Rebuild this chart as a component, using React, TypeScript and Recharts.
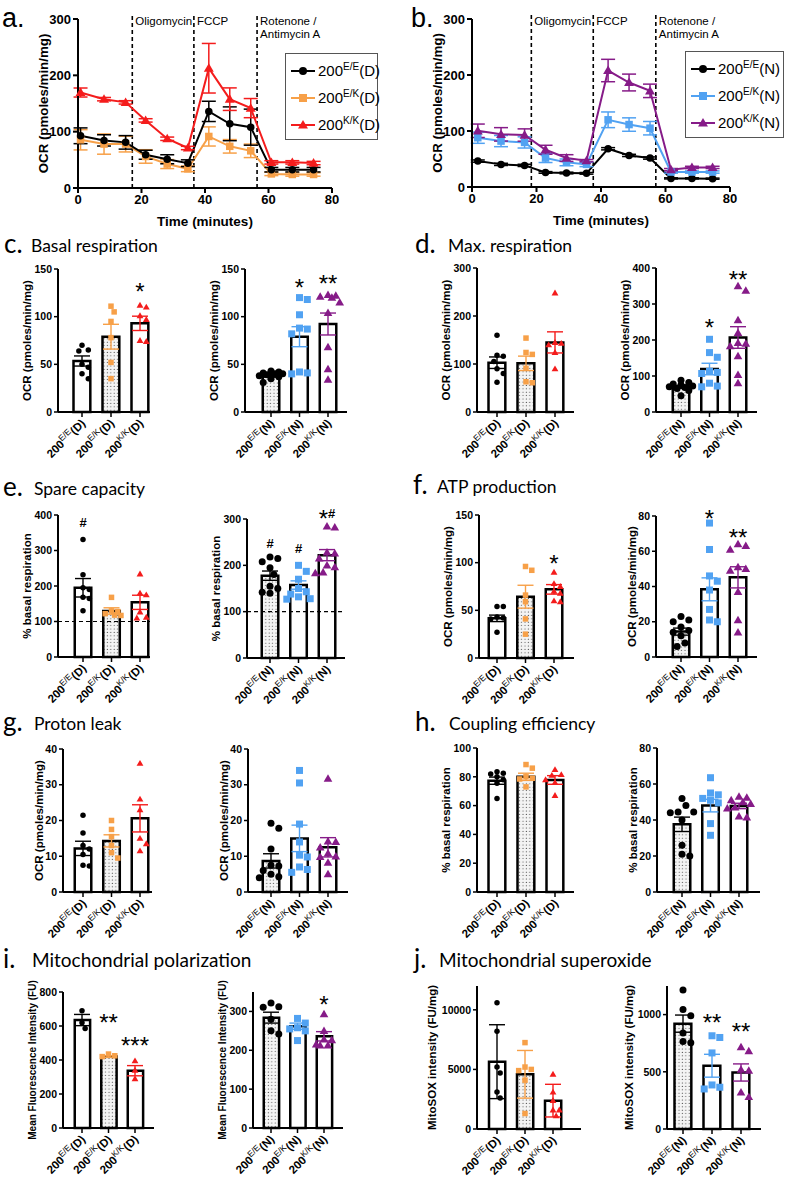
import React from 'react';
import {
  LineChart, Line, ComposedChart, Bar, Cell, Scatter, XAxis, YAxis,
  ErrorBar, ReferenceLine, ReferenceDot, Legend,
} from 'recharts';

const AX = '"Liberation Sans", Arial, Helvetica, sans-serif';
const TT = 'Lato, "Liberation Sans", sans-serif';

const BLACK = '#000000';
const ORANGE = '#F7A048';
const RED = '#F41C1C';
const BLUE = '#51A2F2';
const PURPLE = '#861B88';

const genotypes = ['E/E', 'E/K', 'K/K'];

// ---------- a / b : OCR time courses ----------
const timesA = [0.8, 8.2, 15, 21.3, 28.1, 34.6, 41.2, 47.8, 54.4, 60.9, 67.5, 74.2];
const a_EE = [92.7, 84.5, 81, 59, 51, 44, 136, 114, 108, 32.5, 32.5, 32.5];
const a_EE_err = [14, 10, 12, 8, 8, 6, 18, 30, 32, 4, 4, 4];
const a_EK = [85.6, 78, 78, 56, 42.5, 34, 91.5, 74, 66, 25, 24, 24];
const a_EK_err = [18, 18, 14, 12, 8, 5, 17, 12, 12, 3, 3, 3];
const a_KK = [169.5, 157.7, 152, 120, 87.4, 71, 212.6, 157.7, 141.8, 45.5, 45.5, 44.3];
const a_KK_err = [8, 3, 3, 3, 3, 3, 44, 20, 17, 3, 3, 3];

const timesB = [1.8, 9.0, 16.3, 22.8, 29.3, 35.5, 42.2, 48.7, 55.2, 61.7, 68.2, 74.6];
const b_EE = [46.3, 40.4, 38.6, 26, 25, 24.4, 68.3, 56.4, 51.7, 15.4, 15.4, 14.9];
const b_EE_err = [2, 2, 2, 1.5, 1.5, 1.5, 2, 2, 2, 1, 1, 1];
const b_EK = [88, 82, 79.6, 51.7, 44, 40.4, 120, 111.5, 105, 26.7, 26.7, 26.7];
const b_EK_err = [10, 10, 10, 8, 6, 4, 14, 12, 12, 2, 2, 2];
const b_KK = [100.4, 94, 92.8, 66.5, 51.7, 47, 208, 186.6, 171.7, 31, 35, 35];
const b_KK_err = [12, 12, 11, 8, 6, 2, 20, 15, 12, 2, 2, 2];

const drugsA = [17.1, 36.5, 56.4];
const drugsB = [18.4, 37.6, 57.0];
const drugNames = [['Oligomycin'], ['FCCP'], ['Rotenone /', 'Antimycin A']];

// ---------- c : basal respiration ----------
const basalD_mean = [53.5, 79, 93];
const basalD_sem = [5.3, 13, 7.5];
const basalD_EE = [70, 65, 64, 50, 47, 40, 35];
const basalD_EK = [111, 105, 95, 78, 52, 35];
const basalD_KK = [112, 110, 101, 97, 75, 74];
const basalD_sig = ['', '', '*'];
const basalD_sigY = [0, 0, 132];
const basalN_mean = [38, 79, 92.3];
const basalN_sem = [1.5, 10.5, 11.5];
const basalN_EE = [43, 42, 41, 40, 40, 39, 38, 37, 35, 31];
const basalN_EK = [120, 118, 102, 88, 87, 82, 42, 41, 40];
const basalN_KK = [123, 122, 121, 120, 115, 104, 68, 45, 34];
const basalN_sig = ['', '*', '**'];
const basalN_sigY = [0, 136.7, 140];

// ---------- d : max respiration ----------
const maxD_mean = [102.7, 101.4, 145];
const maxD_sem = [12, 15, 22];
const maxD_EE = [160, 118, 116, 105, 90, 80, 62];
const maxD_EK = [154, 124, 120, 91, 63, 61];
const maxD_KK = [248, 145, 143, 140, 124, 90];
const maxN_mean = [70, 119.4, 207];
const maxN_sem = [4, 16, 30];
const maxN_EE = [88, 82, 78, 75, 72, 70, 68, 65, 60, 45];
const maxN_EK = [202, 165, 152, 113, 110, 107, 80, 72, 70];
const maxN_KK = [350, 337, 255, 220, 192, 190, 183, 155, 103, 80];
const maxN_sig = ['', '*', '**'];
const maxN_sigY = [0, 251, 383];

// ---------- e : spare capacity ----------
const spareD_mean = [195, 129.6, 154];
const spareD_sem = [26, 9, 20];
const spareD_EE = [331, 232, 195, 190, 168, 165, 130];
const spareD_EK = [168, 130, 128, 122, 118, 117];
const spareD_KK = [234, 180, 175, 127, 112, 110];
const spareD_sig = ['#', '', ''];
const spareD_sigY = [378, 0, 0];
const spareN_mean = [177.7, 157.5, 222];
const spareN_sem = [10, 9, 12];
const spareN_EE = [218, 215, 208, 195, 180, 155, 150, 142, 140];
const spareN_EK = [200, 187, 170, 150, 143, 138, 132, 128, 127];
const spareN_KK = [284, 282, 228, 226, 215, 200, 196, 185, 183];
const spareN_sig = ['#', '#', '*#'];
const spareN_sigY = [247, 236, 313];

// ---------- f : ATP production ----------
const atpD_mean = [41.6, 64.3, 72];
const atpD_sem = [3.4, 12, 5];
const atpD_EE = [54, 54, 43, 42, 41, 27];
const atpD_EK = [96, 92, 66, 59, 41, 25];
const atpD_KK = [90, 78, 75, 70, 68, 60, 59];
const atpD_sig = ['', '', '*'];
const atpD_sigY = [0, 0, 104.6];
const atpN_mean = [14.4, 38.4, 45.2];
const atpN_sem = [2, 6.5, 6];
const atpN_EE = [23, 21, 20, 17, 15, 14, 12, 8, 6];
const atpN_EK = [76, 61, 46, 43, 38, 27, 21, 20];
const atpN_KK = [64, 63, 61, 51, 50, 49, 37, 21, 14];
const atpN_sig = ['', '*', '**'];
const atpN_sigY = [0, 81.5, 71];

// ---------- g : proton leak ----------
const leakD_mean = [12.2, 14.3, 20.6];
const leakD_sem = [2, 1.7, 3.8];
const leakD_EE = [21.5, 16.5, 13, 12, 10.5, 7.5, 7.3];
const leakD_EK = [20, 17.5, 15.5, 13, 11, 9.5];
const leakD_KK = [36, 26, 23, 15, 13.5, 11.5];
const leakN_mean = [8.7, 15, 12.5];
const leakN_sem = [2, 3.7, 2.7];
const leakN_EE = [19.2, 17.8, 12, 7.5, 7.3, 6, 5, 4.3, 4];
const leakN_EK = [34, 30.5, 19, 14, 10.3, 9.8, 7, 6.3, 5.5];
const leakN_KK = [31.7, 14.2, 14, 12.5, 10.8, 10, 9.8, 8.2, 5];

// ---------- h : coupling efficiency ----------
const coupD_mean = [77.3, 80, 77.8];
const coupD_sem = [2.5, 2.5, 3];
const coupD_EE = [83.5, 82.5, 82, 80, 78, 75.5, 65];
const coupD_EK = [88.5, 86, 80, 79, 78.5, 73];
const coupD_KK = [85, 81.5, 81, 78, 76, 67];
const coupN_mean = [37.6, 48, 47.8];
const coupN_sem = [4, 3.5, 1.5];
const coupN_EE = [52, 48, 44.5, 44.5, 44, 40, 26, 21, 20];
const coupN_EK = [63.5, 55, 54, 52, 51, 49.5, 38, 31.5];
const coupN_KK = [53, 52.5, 51, 50, 49, 47, 46.5, 42, 41.5];

// ---------- i : mitochondrial polarization ----------
const polD_mean = [635, 420, 337];
const polD_sem = [33, 5, 30];
const polD_EE = [690, 619, 586];
const polD_EK = [435, 425, 420];
const polD_KK = [395, 340, 290];
const polD_sig = ['', '**', '***'];
const polD_sigY = [0, 652, 518];
const polN_mean = [284, 262, 236];
const polN_sem = [14, 8, 12];
const polN_EE = [322, 312, 311, 280, 250, 242];
const polN_EK = [282, 270, 258, 255, 250, 225];
const polN_KK = [293, 250, 228, 226, 215, 213, 213];
const polN_sig = ['', '', '*'];
const polN_sigY = [0, 0, 333];

// ---------- j : mitochondrial superoxide ----------
const soxD_mean = [5650, 4590, 2380];
const soxD_sd = [3100, 2000, 1370];
const soxD_EE = [10600, 8200, 5200, 4700, 3100, 2600];
const soxD_EK = [7250, 5200, 5000, 4900, 4100, 1300];
const soxD_KK = [4600, 3100, 2400, 1600, 1600, 1100];
const soxN_mean = [921, 553, 494];
const soxN_sem = [75, 100, 75];
const soxN_EE = [1215, 1045, 990, 840, 765, 755];
const soxN_EK = [815, 800, 665, 385, 365, 350];
const soxN_KK = [715, 680, 520, 510, 320, 280];
const soxN_sig = ['', '**', '**'];
const soxN_sigY = [0, 980, 898];

const OCR_LABEL = 'OCR (pmoles/min/mg)';
const PCT_LABEL = '% basal respiration';
const MFI_LABEL = 'Mean Fluorescence Intensity (FU)';
const SOX_LABEL = 'MitoSOX intensity (FU/mg)';

const panelTitles = [
  { letter: 'c.', text: 'Basal respiration', lx: 4, tx: 31, y: 253, fs: 17.5 },
  { letter: 'd.', text: 'Max. respiration', lx: 415, tx: 448, y: 253, fs: 17.5 },
  { letter: 'e.', text: 'Spare capacity', lx: 3, tx: 34, y: 496, fs: 17.5 },
  { letter: 'f.', text: 'ATP production', lx: 413, tx: 437, y: 494, fs: 17.5 },
  { letter: 'g.', text: 'Proton leak', lx: 3, tx: 34, y: 731, fs: 17.5 },
  { letter: 'h.', text: 'Coupling efficiency', lx: 415, tx: 449, y: 731, fs: 17.5 },
  { letter: 'i.', text: 'Mitochondrial polarization', lx: 3, tx: 32, y: 968, fs: 19 },
  { letter: 'j.', text: 'Mitochondrial superoxide', lx: 414, tx: 439, y: 968, fs: 19 },
];

// ---------- helpers ----------
function Marker({ kind, cx, cy, size, color }: any) {
  if (cx == null || cy == null || isNaN(cx) || isNaN(cy)) return <g />;
  if (kind === 'circle') return <circle cx={cx} cy={cy} r={size / 2} fill={color} />;
  if (kind === 'square') return <rect x={cx - size / 2} y={cy - size / 2} width={size} height={size} fill={color} />;
  const w = size * 0.62;
  return (
    <polygon
      points={`${cx},${cy - size * 0.62} ${cx + w},${cy + size * 0.45} ${cx - w},${cy + size * 0.45}`}
      fill={color}
    />
  );
}

// beeswarm-style horizontal spreading of points that would overlap
function swarm(vals: number[], dPx: number, kY: number, sp: number, maxPx: number) {
  const placed: { x: number; y: number }[] = [];
  const out: number[] = new Array(vals.length).fill(0);
  const order = vals.map((_, i) => i).sort((a, b) => vals[b] - vals[a]);
  const cands: number[] = [0];
  for (let s = 1; s < 20; s++) {
    const c = Math.ceil(s / 2) * dPx * 0.5 * (s % 2 ? 1 : -1);
    if (Math.abs(c) <= maxPx) cands.push(c);
  }
  for (const i of order) {
    const y = vals[i] * kY;
    let best = 0;
    let bestD = -1;
    for (const cand of cands) {
      const md = placed.length ? Math.min(...placed.map((p) => Math.hypot(p.x - cand, p.y - y))) : 1e9;
      if (md >= dPx) { best = cand; bestD = md; break; }
      if (md > bestD + 0.01) { bestD = md; best = cand; }
    }
    placed.push({ x: best, y });
    out[i] = best / sp;
  }
  return out;
}

function YTitle(p: any) {
  const vb = p.viewBox || { x: 0, y: 0, width: 0, height: 0 };
  const cx = vb.x + vb.width - p.off;
  const cy = vb.y + vb.height / 2;
  return (
    <text x={cx} y={cy} transform={`rotate(-90 ${cx} ${cy})`} textAnchor="middle" dominantBaseline="central"
      fontFamily={AX} fontWeight={700} fontSize={p.fs} fill="#000">
      {p.text}
    </text>
  );
}

function XTitle(p: any) {
  const vb = p.viewBox || { x: 0, y: 0, width: 0, height: 0 };
  return (
    <text x={vb.x + vb.width / 2} y={vb.y + 38} textAnchor="middle" fontFamily={AX} fontWeight={700} fontSize={13.5} fill="#000">
      Time (minutes)
    </text>
  );
}

function GenoTick(p: any) {
  const { x, y, payload, diet } = p;
  const g = genotypes[Math.round(payload.value) - 1] || '';
  return (
    <g transform={`translate(${x + 4},${y + 5}) rotate(-45)`}>
      <text textAnchor="end" fontFamily={AX} fontSize={11.5} fontWeight={700} fill="#000">
        <tspan>200</tspan>
        <tspan dy={-4.5} fontSize={8.5} fontWeight={400}>{g}</tspan>
        <tspan dy={4.5}>({diet})</tspan>
      </text>
    </g>
  );
}

function SigMark({ cx, cy, text }: any) {
  let prev = 0;
  return (
    <text x={cx} y={cy} textAnchor="middle" fontFamily={AX} fill="#000">
      {text.split('').map((ch: string, i: number) => {
        const fs = ch === '*' ? 24 : 13;
        const off = ch === '*' ? 0.58 * fs : 0.36 * fs;
        const dy = off - prev;
        prev = off;
        return <tspan key={i} fontSize={fs} fontWeight={ch === '#' ? 700 : 400} dy={dy}>{ch}</tspan>;
      })}
    </text>
  );
}

// ---------- bar + dot subchart ----------
function DotBar({ c }: any) {
  const YW = 64, MT = 30, MR = 14, XH = 80;
  const sp = (c.c3 - c.c1) / 2;
  const xmin = 1 - (c.c1 - c.axisX) / sp;
  const xmax = 3 + (c.endX - c.c3) / sp;
  const plotW = c.endX - c.axisX;
  const plotH = c.botY - c.topY;
  const kY = plotH / c.max;
  const isD = c.diet === 'D';
  const colors = isD ? [BLACK, ORANGE, RED] : [BLACK, BLUE, PURPLE];
  const kinds = ['circle', 'square', 'triangle'];
  const msize = isD ? 5.5 : 7;
  const patIdx = isD ? 1 : 0;
  const barData = c.means.map((m: number, i: number) => ({ x: i + 1, y: m }));
  const digits = Math.max(...c.ticks.map((t: number) => String(t).length));
  const yOff = 10 + 7 * digits;
  const barSize = sp * 0.58;
  return (
    <div style={{ position: 'absolute', left: c.axisX - YW, top: c.topY - MT }}>
      <ComposedChart width={YW + plotW + MR} height={MT + plotH + XH} data={barData}
        margin={{ top: MT, right: MR, bottom: 0, left: 0 }}>
        <XAxis dataKey="x" type="number" domain={[xmin, xmax]} ticks={[1, 2, 3]} height={XH} interval={0}
          axisLine={{ stroke: '#000', strokeWidth: 2 }} tickLine={{ stroke: '#000', strokeWidth: 1.5 }} tickSize={5}
          tick={(p: any) => <GenoTick {...p} diet={c.diet} />} />
        <XAxis xAxisId="bars" dataKey="x" type="number" domain={[xmin, xmax]} ticks={[1, 2, 3]} hide />
        <YAxis dataKey="y" type="number" domain={[0, c.max]} ticks={c.ticks} width={YW} interval={0}
          axisLine={{ stroke: '#000', strokeWidth: 2 }} tickLine={{ stroke: '#000', strokeWidth: 1.5 }}
          tickSize={4} tickMargin={2}
          tick={{ fontSize: 10.5, fontWeight: 700, fill: '#000', fontFamily: AX }}
          label={(p: any) => <YTitle {...p} text={c.ylabel} off={yOff} fs={c.yfs} />} />
        <Bar xAxisId="bars" dataKey="y" barSize={barSize} stroke="#000" strokeWidth={2.5} isAnimationActive={false}>
          {barData.map((_: any, i: number) => (
            <Cell key={i} fill={i === patIdx ? 'url(#dots)' : '#ffffff'} />
          ))}
        </Bar>
        {c.ref ? <ReferenceLine y={c.ref} stroke="#000" strokeWidth={1.2} strokeDasharray="4 3" /> : null}
        {c.pts.map((vals: number[], g: number) => {
          const dxs = swarm(vals, msize + 0.8, kY, sp, sp * 0.42);
          const data = vals.map((v, i) => ({ x: g + 1 + dxs[i], y: v }));
          return (
            <Scatter key={'p' + g} data={data} isAnimationActive={false}
              shape={(p: any) => <Marker kind={kinds[g]} cx={p.cx} cy={p.cy} size={msize} color={colors[g]} />} />
          );
        })}
        {c.means.map((m: number, g: number) => (
          <Scatter key={'e' + g} data={[{ x: g + 1, y: m, e: c.errs[g] }]} isAnimationActive={false} shape={() => <g />}>
            <ErrorBar dataKey="e" direction="y" width={8} stroke={colors[g]} strokeWidth={1.4} />
          </Scatter>
        ))}
        {(c.sig || []).map((s: string, g: number) =>
          s ? (
            <ReferenceDot key={'s' + g} x={g + 1} y={c.sigY[g]} r={0} ifOverflow="visible"
              shape={(p: any) => <SigMark cx={p.cx} cy={p.cy} text={s} />} />
          ) : null,
        )}
      </ComposedChart>
    </div>
  );
}

function LegendBox({ series, diet, w, h }: any) {
  return (
    <div style={{ width: w, height: h, border: '1px solid #555', boxSizing: 'border-box', background: '#fff', position: 'relative' }}>
      {series.map((s: any, i: number) => (
        <div key={s.key} style={{ position: 'absolute', left: 0, top: 5 + i * 27, height: 24, display: 'flex', alignItems: 'center' }}>
          <svg width={32} height={24}>
            <line x1={5} x2={29} y1={12} y2={12} stroke={s.color} strokeWidth={2} />
            <Marker kind={s.kind} cx={17} cy={12} size={8} color={s.color} />
          </svg>
          <span style={{ fontFamily: AX, fontSize: 15, color: '#000', whiteSpace: 'nowrap', lineHeight: '24px' }}>
            200<sup style={{ fontSize: 10, lineHeight: 0 }}>{s.geno}</sup>({diet})
          </span>
        </div>
      ))}
    </div>
  );
}

function TimeCourse({ left, times, series, diet, drugs, mr, xh, legendPos }: any) {
  const data = times.map((t: number, i: number) => {
    const row: any = { t };
    series.forEach((s: any) => {
      row[s.key] = s.vals[i];
      row[s.key + 'E'] = s.errs[i];
    });
    return row;
  });
  return (
    <div style={{ position: 'absolute', left, top: 0 }}>
      <LineChart width={394} height={240} data={data} margin={{ top: 19, right: mr, bottom: 0, left: 0 }}>
        <XAxis dataKey="t" type="number" domain={[0, 80]} ticks={[0, 20, 40, 60, 80]} height={xh} interval={0}
          axisLine={{ stroke: '#000', strokeWidth: 2 }} tickLine={{ stroke: '#000', strokeWidth: 2 }} tickSize={5}
          tick={{ fontSize: 13, fontWeight: 700, fill: '#000', fontFamily: AX }}
          label={(p: any) => <XTitle {...p} />} />
        <YAxis type="number" domain={[0, 300]} ticks={[0, 100, 200, 300]} width={78} interval={0}
          axisLine={{ stroke: '#000', strokeWidth: 2 }} tickLine={{ stroke: '#000', strokeWidth: 2 }} tickSize={5}
          tick={{ fontSize: 13, fontWeight: 700, fill: '#000', fontFamily: AX }}
          label={(p: any) => <YTitle {...p} text={OCR_LABEL} off={35} fs={13.3} />} />
        {drugs.map((x: number, i: number) => (
          <ReferenceLine key={'v' + i} segment={[{ x, y: 0 }, { x, y: 310 }]} ifOverflow="visible"
            stroke="#000" strokeWidth={1.6} strokeDasharray="4 3" />
        ))}
        {drugs.map((x: number, i: number) => (
          <ReferenceDot key={'d' + i} x={x} y={300} r={0} ifOverflow="visible"
            shape={(p: any) => (
              <text x={p.cx + 3} y={p.cy + 5.5} fontFamily={AX} fontSize={11.5} fill="#000">
                {drugNames[i].map((line, j) => (
                  <tspan key={j} x={p.cx + 3} dy={j === 0 ? 0 : 13}>{line}</tspan>
                ))}
              </text>
            )} />
        ))}
        {series.map((s: any) => (
          <Line key={s.key} dataKey={s.key} stroke={s.color} strokeWidth={2} isAnimationActive={false} activeDot={false}
            dot={(p: any) => <Marker key={p.index} kind={s.kind} cx={p.cx} cy={p.cy} size={s.kind === 'triangle' ? 8 : 7.5} color={s.color} />}>
            <ErrorBar dataKey={s.key + 'E'} direction="y" width={7} stroke={s.color} strokeWidth={1.5} />
          </Line>
        ))}
        <Legend layout="vertical" align="center" verticalAlign="middle"
          wrapperStyle={{ left: legendPos.left, top: legendPos.top, width: legendPos.w, height: legendPos.h }}
          content={() => <LegendBox series={[...series].sort((a: any, b: any) => a.order - b.order)} diet={diet} w={legendPos.w} h={legendPos.h} />} />
      </LineChart>
    </div>
  );
}

const seriesA = [
  { key: 'ek', vals: a_EK, errs: a_EK_err, color: ORANGE, kind: 'square', geno: 'E/K', order: 1 },
  { key: 'ee', vals: a_EE, errs: a_EE_err, color: BLACK, kind: 'circle', geno: 'E/E', order: 0 },
  { key: 'kk', vals: a_KK, errs: a_KK_err, color: RED, kind: 'triangle', geno: 'K/K', order: 2 },
];
const seriesB = [
  { key: 'ee', vals: b_EE, errs: b_EE_err, color: BLACK, kind: 'circle', geno: 'E/E', order: 0 },
  { key: 'ek', vals: b_EK, errs: b_EK_err, color: BLUE, kind: 'square', geno: 'E/K', order: 1 },
  { key: 'kk', vals: b_KK, errs: b_KK_err, color: PURPLE, kind: 'triangle', geno: 'K/K', order: 2 },
];

const barPanels = [
  { axisX: 58, c1: 82, c3: 140, endX: 150, topY: 269, botY: 412, max: 150, ticks: [0, 50, 100, 150], diet: 'D', ylabel: OCR_LABEL, yfs: 11.5,
    means: basalD_mean, errs: basalD_sem, pts: [basalD_EE, basalD_EK, basalD_KK], sig: basalD_sig, sigY: basalD_sigY },
  { axisX: 245, c1: 271, c3: 328, endX: 347, topY: 269, botY: 412, max: 150, ticks: [0, 50, 100, 150], diet: 'N', ylabel: OCR_LABEL, yfs: 11.5,
    means: basalN_mean, errs: basalN_sem, pts: [basalN_EE, basalN_EK, basalN_KK], sig: basalN_sig, sigY: basalN_sigY },
  { axisX: 477, c1: 497, c3: 555, endX: 574, topY: 268, botY: 412, max: 300, ticks: [0, 100, 200, 300], diet: 'D', ylabel: OCR_LABEL, yfs: 11.5,
    means: maxD_mean, errs: maxD_sem, pts: [maxD_EE, maxD_EK, maxD_KK] },
  { axisX: 656, c1: 681, c3: 738, endX: 757, topY: 268, botY: 412, max: 400, ticks: [0, 100, 200, 300, 400], diet: 'N', ylabel: OCR_LABEL, yfs: 11.5,
    means: maxN_mean, errs: maxN_sem, pts: [maxN_EE, maxN_EK, maxN_KK], sig: maxN_sig, sigY: maxN_sigY },
  { axisX: 58, c1: 83, c3: 140, endX: 150, topY: 515, botY: 657, max: 400, ticks: [0, 100, 200, 300, 400], diet: 'D', ylabel: PCT_LABEL, yfs: 11.5,
    means: spareD_mean, errs: spareD_sem, pts: [spareD_EE, spareD_EK, spareD_KK], sig: spareD_sig, sigY: spareD_sigY, ref: 100 },
  { axisX: 247, c1: 270, c3: 327, endX: 345, topY: 519, botY: 658, max: 300, ticks: [0, 100, 200, 300], diet: 'N', ylabel: PCT_LABEL, yfs: 11.5,
    means: spareN_mean, errs: spareN_sem, pts: [spareN_EE, spareN_EK, spareN_KK], sig: spareN_sig, sigY: spareN_sigY, ref: 100 },
  { axisX: 479, c1: 497, c3: 554, endX: 574, topY: 515, botY: 658, max: 150, ticks: [0, 50, 100, 150], diet: 'D', ylabel: OCR_LABEL, yfs: 11.5,
    means: atpD_mean, errs: atpD_sem, pts: [atpD_EE, atpD_EK, atpD_KK], sig: atpD_sig, sigY: atpD_sigY },
  { axisX: 656, c1: 681, c3: 738, endX: 757, topY: 516, botY: 657, max: 80, ticks: [0, 20, 40, 60, 80], diet: 'N', ylabel: OCR_LABEL, yfs: 11.5,
    means: atpN_mean, errs: atpN_sem, pts: [atpN_EE, atpN_EK, atpN_KK], sig: atpN_sig, sigY: atpN_sigY },
  { axisX: 63, c1: 83, c3: 140, endX: 152, topY: 749, botY: 892, max: 40, ticks: [0, 10, 20, 30, 40], diet: 'D', ylabel: OCR_LABEL, yfs: 11.5,
    means: leakD_mean, errs: leakD_sem, pts: [leakD_EE, leakD_EK, leakD_KK] },
  { axisX: 248, c1: 271, c3: 328, endX: 348, topY: 749, botY: 892, max: 40, ticks: [0, 10, 20, 30, 40], diet: 'N', ylabel: OCR_LABEL, yfs: 11.5,
    means: leakN_mean, errs: leakN_sem, pts: [leakN_EE, leakN_EK, leakN_KK] },
  { axisX: 477, c1: 497, c3: 555, endX: 574, topY: 748, botY: 892, max: 100, ticks: [0, 20, 40, 60, 80, 100], diet: 'D', ylabel: PCT_LABEL, yfs: 11.5,
    means: coupD_mean, errs: coupD_sem, pts: [coupD_EE, coupD_EK, coupD_KK] },
  { axisX: 657, c1: 682, c3: 739, endX: 760, topY: 748, botY: 892, max: 80, ticks: [0, 20, 40, 60, 80], diet: 'N', ylabel: PCT_LABEL, yfs: 11.5,
    means: coupN_mean, errs: coupN_sem, pts: [coupN_EE, coupN_EK, coupN_KK] },
  { axisX: 63, c1: 82, c3: 135, endX: 154, topY: 992, botY: 1128, max: 800, ticks: [0, 200, 400, 600, 800], diet: 'D', ylabel: MFI_LABEL, yfs: 10,
    means: polD_mean, errs: polD_sem, pts: [polD_EE, polD_EK, polD_KK], sig: polD_sig, sigY: polD_sigY },
  { axisX: 253, c1: 271, c3: 324, endX: 343, topY: 992, botY: 1128, max: 350, ticks: [0, 100, 200, 300], diet: 'N', ylabel: MFI_LABEL, yfs: 10,
    means: polN_mean, errs: polN_sem, pts: [polN_EE, polN_EK, polN_KK], sig: polN_sig, sigY: polN_sigY },
  { axisX: 477, c1: 497, c3: 553, endX: 581, topY: 986, botY: 1129, max: 12000, ticks: [0, 5000, 10000], diet: 'D', ylabel: SOX_LABEL, yfs: 11.5,
    means: soxD_mean, errs: soxD_sd, pts: [soxD_EE, soxD_EK, soxD_KK] },
  { axisX: 667, c1: 683, c3: 741, endX: 761, topY: 986, botY: 1129, max: 1250, ticks: [0, 500, 1000], diet: 'N', ylabel: SOX_LABEL, yfs: 11.5,
    means: soxN_mean, errs: soxN_sem, pts: [soxN_EE, soxN_EK, soxN_KK], sig: soxN_sig, sigY: soxN_sigY },
];

export default function App() {
  return (
    <div style={{ position: 'absolute', left: 0, top: 0, width: 788, height: 1180, background: '#fff', overflow: 'hidden' }}>
      <svg width={788} height={1180} style={{ position: 'absolute', left: 0, top: 0 }}>
        <defs>
          <pattern id="dots" width="3.4" height="3.4" patternUnits="userSpaceOnUse">
            <rect width="3.4" height="3.4" fill="#f4f4f4" />
            <circle cx="1.2" cy="1.2" r="0.6" fill="#555" />
          </pattern>
        </defs>
        <text x={2} y={26.5} fontFamily={AX} fontSize={27} fill="#000">a.</text>
        <text x={411} y={26.5} fontFamily={AX} fontSize={27} fill="#000">b.</text>
        {panelTitles.map((t) => (
          <g key={t.letter}>
            <text x={t.lx} y={t.y} fontFamily={TT} fontSize={26} fill="#000">{t.letter}</text>
            <text x={t.tx} y={t.y - 1} fontFamily={TT} fontSize={t.fs} fill="#000">{t.text}</text>
          </g>
        ))}
      </svg>
      <TimeCourse left={0} times={timesA} series={seriesA} diet="D" drugs={drugsA} mr={62} xh={52}
        legendPos={{ left: 285, top: 53, w: 93, h: 87 }} />
      <TimeCourse left={394} times={timesB} series={seriesB} diet="N" drugs={drugsB} mr={58} xh={53}
        legendPos={{ left: 291, top: 51, w: 99, h: 87 }} />
      {barPanels.map((c, i) => (
        <DotBar key={i} c={c} />
      ))}
    </div>
  );
}
